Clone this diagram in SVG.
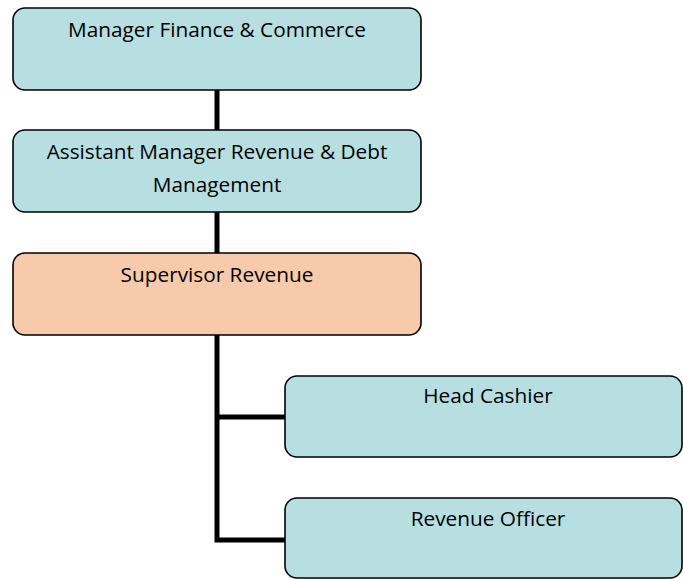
<svg xmlns="http://www.w3.org/2000/svg" width="683" height="579" viewBox="0 0 683 579">
  <style>
    .box { stroke: #000; stroke-width: 1.6; }
    .blue { fill: #b7dfe2; }
    .orange { fill: #f6caab; }
    .lbl { font-family: "Open Sans", "Liberation Sans", sans-serif; font-size: 20.8px; fill: #000; text-anchor: middle; }
    .wire { stroke: #000; stroke-width: 5; fill: none; }
  </style>
  <rect width="683" height="579" fill="#fff"/>
  <g id="connectors">
    <line class="wire" x1="217" y1="90" x2="217" y2="130"/>
    <line class="wire" x1="217" y1="212" x2="217" y2="253"/>
    <polyline class="wire" points="217,335 217,540 286,540"/>
    <line class="wire" x1="217" y1="417" x2="286" y2="417"/>
  </g>
  <g id="manager">
    <rect class="box blue" x="13" y="8" width="408" height="82" rx="12"/>
    <text class="lbl" x="217" y="37">Manager Finance &amp; Commerce</text>
  </g>
  <g id="assistant-manager">
    <rect class="box blue" x="13" y="130" width="408" height="82" rx="12"/>
    <text class="lbl" x="217" y="159">Assistant Manager Revenue &amp; Debt</text>
    <text class="lbl" x="217" y="192">Management</text>
  </g>
  <g id="supervisor">
    <rect class="box orange" x="13" y="253" width="408" height="82" rx="12"/>
    <text class="lbl" x="217" y="282">Supervisor Revenue</text>
  </g>
  <g id="head-cashier">
    <rect class="box blue" x="285" y="376" width="397" height="81" rx="12"/>
    <text class="lbl" x="488" y="403">Head Cashier</text>
  </g>
  <g id="revenue-officer">
    <rect class="box blue" x="285" y="498" width="397" height="80" rx="12"/>
    <text class="lbl" x="488" y="526">Revenue Officer</text>
  </g>
</svg>
